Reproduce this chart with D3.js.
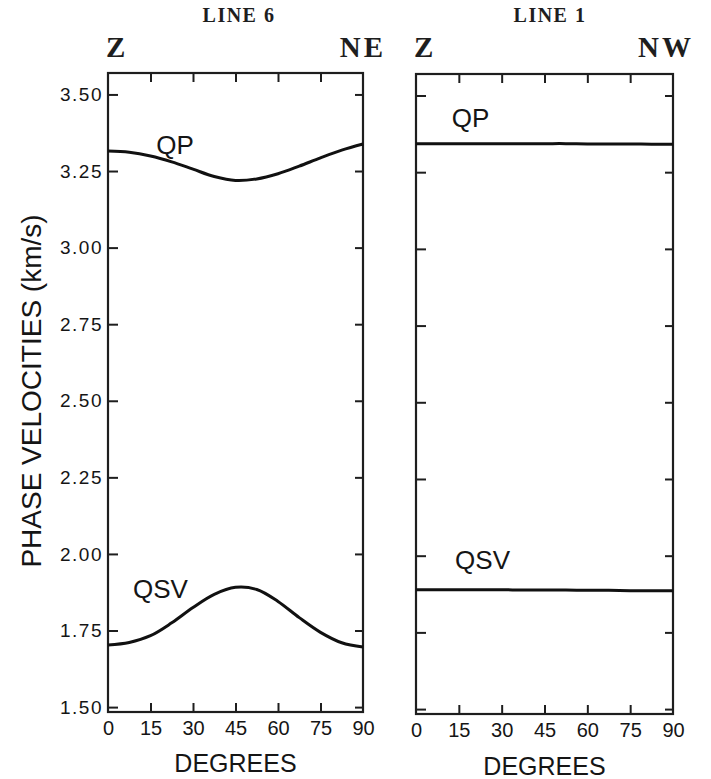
<!DOCTYPE html>
<html>
<head>
<meta charset="utf-8">
<script src="https://cdn.jsdelivr.net/npm/d3@7"></script>
<style>
	body { margin: 0; background: #fff; }
	svg { display: block; }
	.tick text { font-family: "Liberation Sans", Arial, sans-serif; fill: #151515; }
	.lab { font-family: "Liberation Sans", Arial, sans-serif; fill: #151515; }
	.head { font-family: "Liberation Serif", "DejaVu Serif", serif; font-weight: bold; fill: #1e1e1e; }
</style>
</head>
<body>
<div id="chart"></div>
<script>
// ---------- DATA ----------
const degrees = [0, 7.5, 15, 22.5, 30, 37.5, 45, 52.5, 60, 67.5, 75, 82.5, 90];
const line6QP = [3.315, 3.311, 3.299, 3.280, 3.256, 3.232, 3.219, 3.224, 3.241, 3.266, 3.293, 3.318, 3.338];
const line6QSV = [1.703, 1.711, 1.733, 1.775, 1.825, 1.868, 1.891, 1.884, 1.845, 1.792, 1.744, 1.710, 1.696];
const line1QP = [3.343, 3.343, 3.343, 3.343, 3.343, 3.343, 3.343, 3.343, 3.342, 3.342, 3.342, 3.341, 3.341];
const line1QSV = [1.889, 1.889, 1.889, 1.889, 1.889, 1.888, 1.888, 1.888, 1.887, 1.887, 1.886, 1.886, 1.886];

const xTicks = [0, 15, 30, 45, 60, 75, 90];
const yTicks = [1.5, 1.75, 2.0, 2.25, 2.5, 2.75, 3.0, 3.25, 3.5];

const size = { w: 711, h: 779 };

// two panels, left one carries the y labels
const panels = [
	{ title: "LINE 6", left: "Z", right: "NE", x0: 108, x1: 363, y0: 712, y1: 73, qp: line6QP, qsv: line6QSV,
		qpLab: [17, 3.306], qsvLab: [8.8, 1.856], yLabels: true, tx: 239, rx: 386, degY: 772 },
	{ title: "LINE 1", left: "Z", right: "NW", x0: 416, x1: 673, y0: 714, y1: 74, qp: line1QP, qsv: line1QSV,
		qpLab: [12.5, 3.398], qsvLab: [13.7, 1.957], yLabels: false, tx: 550, rx: 694, degY: 775 },
];

const svg = d3
	.select("#chart")
	.append("svg")
	.attr("width", size.w)
	.attr("height", size.h);

panels.forEach((p) => {
	const xScale = d3.scaleLinear().domain([0, 90]).range([p.x0, p.x1]);
	const yScale = d3.scaleLinear().domain([1.484, 3.57]).range([p.y0, p.y1]);
	const g = svg.append("g");

	// inward ticks on all four sides
	g.append("g")
		.attr("transform", `translate(0, ${p.y0})`)
		.call(d3.axisBottom(xScale).tickValues(xTicks).tickSize(-9).tickPadding(9).tickFormat(d3.format("d")))
		.call((a) => a.select(".domain").remove())
		.call((a) => a.selectAll(".tick line").filter((d) => d === 0 || d === 90).remove())
		.call((a) => a.selectAll(".tick text").attr("font-size", 20));
	g.append("g")
		.attr("transform", `translate(0, ${p.y1})`)
		.call(d3.axisTop(xScale).tickValues(xTicks.slice(1, -1)).tickSize(-9).tickFormat(""))
		.call((a) => a.select(".domain").remove());
	g.append("g")
		.attr("transform", `translate(${p.x0}, 0)`)
		.call(d3.axisLeft(yScale).tickValues(yTicks).tickSize(-10).tickPadding(5)
			.tickFormat(p.yLabels ? d3.format(".2f") : ""))
		.call((a) => a.select(".domain").remove())
		.call((a) => a.selectAll(".tick text").attr("font-size", 19).attr("letter-spacing", 1.5));
	g.append("g")
		.attr("transform", `translate(${p.x1}, 0)`)
		.call(d3.axisRight(yScale).tickValues(yTicks).tickSize(-8).tickFormat(""))
		.call((a) => a.select(".domain").remove());

	g.selectAll(".tick line").attr("stroke", "#1e1e1e").attr("stroke-width", 2);

	// frame
	g.append("rect")
		.attr("x", p.x0)
		.attr("y", p.y1)
		.attr("width", p.x1 - p.x0)
		.attr("height", p.y0 - p.y1)
		.attr("fill", "none")
		.attr("stroke", "#1e1e1e")
		.attr("stroke-width", 2.2);

	const line = d3
		.line()
		.x((d, i) => xScale(degrees[i]))
		.y((d) => yScale(d))
		.curve(d3.curveCatmullRom);

	[p.qp, p.qsv].forEach((series) => {
		g.append("path")
			.attr("d", line(series))
			.attr("fill", "none")
			.attr("stroke", "#111")
			.attr("stroke-width", 3);
	});

	g.append("text").classed("lab", true)
		.attr("x", xScale(p.qpLab[0])).attr("y", yScale(p.qpLab[1]))
		.attr("font-size", 26).text("QP");
	g.append("text").classed("lab", true)
		.attr("x", xScale(p.qsvLab[0])).attr("y", yScale(p.qsvLab[1]))
		.attr("font-size", 26).text("QSV");

	g.append("text").classed("lab", true)
		.attr("x", (p.x0 + p.x1) / 2)
		.attr("y", p.degY)
		.attr("text-anchor", "middle")
		.attr("font-size", 25)
		.text("DEGREES");

	// headings
	g.append("text").classed("head", true)
		.attr("x", p.tx).attr("y", 22)
		.attr("text-anchor", "middle")
		.attr("font-size", 20)
		.attr("letter-spacing", 1.5)
		.text(p.title);
	g.append("text").classed("head", true)
		.attr("x", p.x0 - 2).attr("y", 57)
		.attr("font-size", 29)
		.text(p.left);
	g.append("text").classed("head", true)
		.attr("x", p.rx).attr("y", 57)
		.attr("text-anchor", "end")
		.attr("font-size", 29)
		.attr("letter-spacing", 3)
		.text(p.right);
});

svg.append("text").classed("lab", true)
	.attr("transform", "translate(41, 391) rotate(-90)")
	.attr("text-anchor", "middle")
	.attr("font-size", 28)
	.text("PHASE VELOCITIES (km/s)");
</script>
</body>
</html>
